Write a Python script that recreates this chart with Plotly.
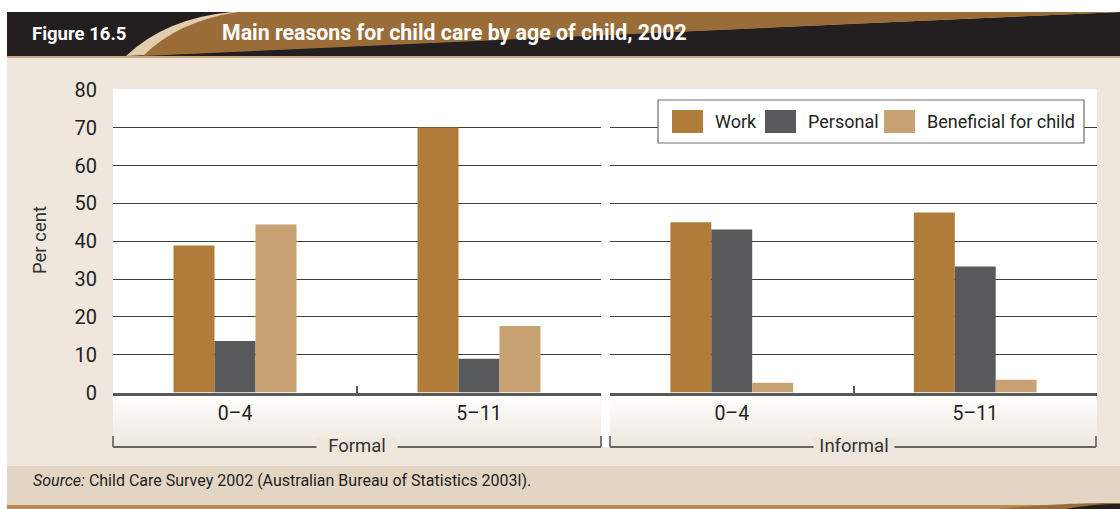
import plotly.graph_objects as go

# ---- data -------------------------------------------------------------
age_groups = ["0–4", "5–11"]
care_types = ["Formal", "Informal"]
series_names = ["Work", "Personal", "Beneficial for child"]
series_colors = ["#B07C3A", "#58595B", "#C9A273"]

formal_work = [38.9, 70.1]
formal_personal = [13.6, 8.9]
formal_beneficial = [44.4, 17.6]

informal_work = [45.0, 47.6]
informal_personal = [43.1, 33.3]
informal_beneficial = [2.6, 3.4]

y_ticks = [0, 10, 20, 30, 40, 50, 60, 70, 80]

# ---- page geometry (pixels) -------------------------------------------
W, H = 1120, 509
FONT = "Roboto, Liberation Sans, sans-serif"
BEIGE = "#EFE7DE"
INK = "#231F20"


def fx(x):
    return x / W


def fy(y):
    return 1 - y / H


def rect(x0, y0, x1, y1, color, layer="below", line=None):
    d = dict(type="rect", xref="paper", yref="paper",
             x0=fx(x0), x1=fx(x1), y0=fy(y1), y1=fy(y0),
             fillcolor=color, layer=layer, line=dict(width=0))
    if line:
        d["line"] = line
    return d


def path(points_cmds, color, layer="below"):
    # points_cmds: list of (cmd, [(x, y), ...])
    parts = []
    for cmd, pts in points_cmds:
        coords = " ".join(f"{fx(x):.5f},{fy(y):.5f}" for x, y in pts)
        parts.append(f"{cmd}{coords}")
    return dict(type="path", xref="paper", yref="paper", path=" ".join(parts) + " Z",
                fillcolor=color, line=dict(width=0), layer=layer)


def seg(x0, y0, x1, y1, color, width=1.3, layer="above"):
    return dict(type="line", xref="paper", yref="paper",
                x0=fx(x0), x1=fx(x1), y0=fy(y0), y1=fy(y1),
                line=dict(color=color, width=width), layer=layer)


plot_left, plot_mid_l, plot_mid_r, plot_right = 113, 601, 610, 1097
y_zero_px, y_top_px = 392.5, 90
y_dom = [fy(y_zero_px), fy(y_top_px)]

fig = go.Figure()

panels = [
    ("x", "y", [formal_work, formal_personal, formal_beneficial]),
    ("x2", "y2", [informal_work, informal_personal, informal_beneficial]),
]
for xa, ya, values in panels:
    for name, color, vals in zip(series_names, series_colors, values):
        fig.add_trace(go.Bar(
            x=age_groups, y=vals, name=name, marker=dict(color=color, line=dict(width=0)),
            xaxis=xa, yaxis=ya, showlegend=False, hoverinfo="x+y+name",
        ))

axis_common_x = dict(
    type="category", showgrid=False, zeroline=False,
    showline=True, linecolor="#58595B", linewidth=2.5,
    ticks="inside", tickson="boundaries", ticklen=7, tickcolor="#58595B", tickwidth=1.5,
    tickfont=dict(family=FONT, size=19.5, color=INK), ticklabelstandoff=1,
    fixedrange=True,
)
axis_common_y = dict(
    range=[0, 80], tickvals=y_ticks, domain=y_dom,
    showgrid=True, gridcolor="#3E3E3E", gridwidth=1.2,
    zeroline=False, showline=False, ticks="", fixedrange=True,
)

shapes = []
# page backgrounds
shapes.append(rect(7, 56, W, 466, BEIGE))
shapes.append(rect(7, 466, W, 505, "#E2D5C4"))
shapes.append(rect(7, 505, W, H, "#B78B52"))
shapes.append(path([("M", [(1000, H)]), ("C", [(1050, 504), (1080, 503), (W, 503)]),
                    ("L", [(W, H)])], "#9A6C37"))
shapes.append(path([("M", [(1065, H)]), ("C", [(1088, 505), (1102, 504), (W, 504)]),
                    ("L", [(W, H)])], INK))

# header band with swoosh
shapes.append(rect(7, 12, W, 56, INK))
shapes.append(path([("M", [(126, 56)]), ("Q", [(166, 18), (232, 12)]),
                    ("L", [(W, 12), (W, 56)])], "#E2CCAE"))
shapes.append(path([("M", [(143, 56)]), ("Q", [(178, 21), (238, 12)]),
                    ("L", [(W, 12), (W, 56)])], "#9A6C37"))
shapes.append(rect(7, 56, W, 58, "#C9A882"))

# plot panels: white area and fade beneath the axis line
shapes.append(rect(plot_left, 89, plot_right, 447, "white"))
n_bands = 18
top, bot = 393, 447
for i in range(n_bands):
    t = (i + 0.5) / n_bands
    r = round(255 + (239 - 255) * t)
    g = round(255 + (231 - 255) * t)
    b = round(255 + (222 - 255) * t)
    c = f"rgb({r},{g},{b})"
    y0 = top + (bot - top) * i / n_bands
    y1 = top + (bot - top) * (i + 1) / n_bands + 0.3
    shapes.append(rect(plot_left, y0, plot_mid_l, y1, c))
    shapes.append(rect(plot_mid_r, y0, plot_right, y1, c))

# group brackets under each panel
for x0, x1 in [(plot_left, plot_mid_l), (plot_mid_r, plot_right - 1)]:
    shapes.append(seg(x0, 447, x1, 447, "#3A3A3A", 1.3))
    shapes.append(seg(x0, 436, x0, 447, "#6D6E70", 1.8))
    shapes.append(seg(x1, 436, x1, 447, "#6D6E70", 1.8))

annotations = []
for label, (x0, x1) in zip(care_types, [(plot_left, plot_mid_l), (plot_mid_r, plot_right)]):
    annotations.append(dict(
        x=fx((x0 + x1) / 2), y=fy(446), xref="paper", yref="paper",
        text=label, showarrow=False, bgcolor=BEIGE, borderpad=0,
        font=dict(family=FONT, size=18.5, color="#333333"),
        xanchor="center", yanchor="middle", width=80, height=16,
    ))

# legend box
shapes.append(rect(658, 100, 1084, 143, "white", layer="above",
                   line=dict(color="#6D6E70", width=1.2)))
legend_swatch_x = [672, 765, 884]
for name, color, sx in zip(series_names, series_colors, legend_swatch_x):
    shapes.append(rect(sx, 110, sx + 31, 133, color, layer="above"))
    annotations.append(dict(
        x=fx(sx + 41), y=fy(122), xref="paper", yref="paper", text=name,
        showarrow=False, xanchor="left", yanchor="middle",
        font=dict(family=FONT, size=18, color=INK),
    ))

# header texts
annotations.append(dict(
    x=fx(30), y=fy(34), xref="paper", yref="paper", text="<b>Figure 16.5</b>",
    showarrow=False, xanchor="left", yanchor="middle",
    font=dict(family=FONT, size=18.5, color="white"),
))
annotations.append(dict(
    x=fx(220), y=fy(33), xref="paper", yref="paper",
    text="<b>Main reasons for child care by age of child, 2002</b>",
    showarrow=False, xanchor="left", yanchor="middle",
    font=dict(family=FONT, size=21.3, color="white"),
))

# y axis title
annotations.append(dict(
    x=fx(40), y=fy(240), xref="paper", yref="paper", text="Per cent",
    showarrow=False, textangle=-90, xanchor="center", yanchor="middle",
    font=dict(family=FONT, size=18.5, color="#333333"),
))

# source note
annotations.append(dict(
    x=fx(31), y=fy(480), xref="paper", yref="paper",
    text="<i>Source:</i> Child Care Survey 2002 (Australian Bureau of Statistics 2003l).",
    showarrow=False, xanchor="left", yanchor="middle",
    font=dict(family=FONT, size=16, color=INK),
))

fig.update_layout(
    width=W, height=H,
    margin=dict(l=0, r=0, t=0, b=0, autoexpand=False),
    paper_bgcolor="white", plot_bgcolor="rgba(0,0,0,0)",
    barmode="group", bargap=0.496, bargroupgap=0,
    showlegend=False,
    xaxis=dict(domain=[fx(plot_left), fx(plot_mid_l)], anchor="y", **axis_common_x),
    xaxis2=dict(domain=[fx(plot_mid_r), fx(plot_right)], anchor="y2", **axis_common_x),
    yaxis=dict(anchor="x", showticklabels=True, ticklabelstandoff=15,
               tickfont=dict(family=FONT, size=20, color=INK), **axis_common_y),
    yaxis2=dict(anchor="x2", matches="y", showticklabels=False, **axis_common_y),
    shapes=shapes,
    annotations=annotations,
)

fig.write_html("out.html")
